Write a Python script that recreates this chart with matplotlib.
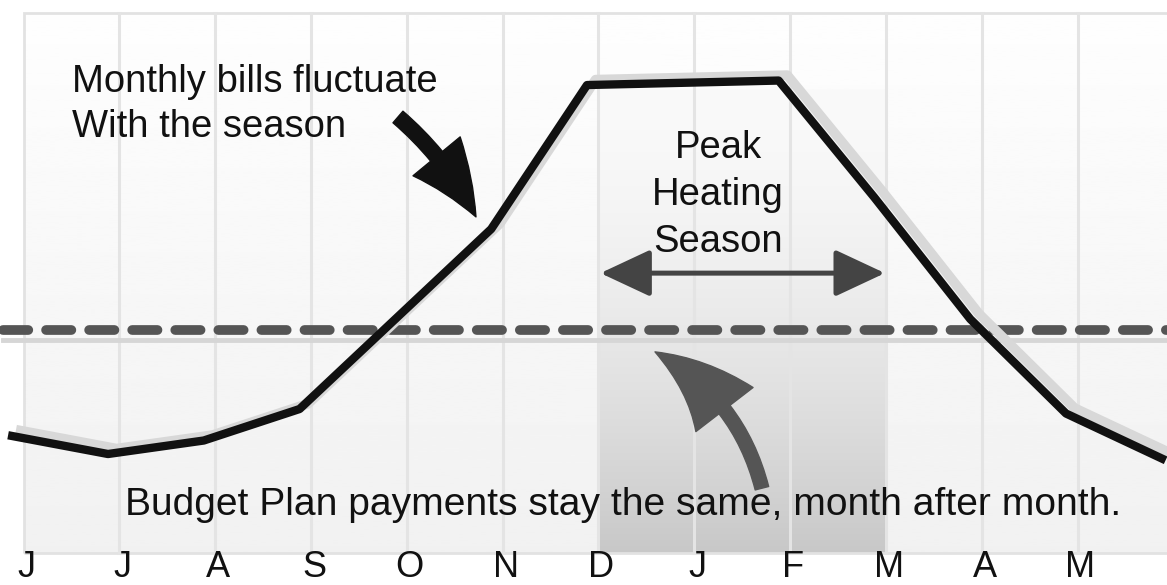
import numpy as np
import matplotlib
matplotlib.use("agg")
import matplotlib.pyplot as plt
from matplotlib.patches import FancyArrowPatch, Rectangle

plt.rcParams["font.family"] = ["Liberation Sans", "DejaVu Sans"]

# ---- data (arbitrary bill units) ----
months = ["J", "J", "A", "S", "O", "N", "D", "J", "F", "M", "A", "M"]
bill = [26, 22, 25, 32, 52, 72, 104, 104.5, 105, 79, 52, 31, 21]  # last = next June
budget = 49.5
peak_start, peak_end = 6, 9  # D .. M

FS = 27.5
fig = plt.figure(figsize=(11.67, 5.85), dpi=100)
ax = fig.add_axes([0, 0, 1, 1])

# plot-area background (soft vertical gradient)
bg = np.linspace(0.945, 0.995, 200)[:, None]
ax.imshow(bg, extent=[0, 12, 0, 120], origin="lower", aspect="auto",
          cmap="gray", vmin=0, vmax=1, zorder=0)
ax.add_patch(Rectangle((0, 0), 12, 120, fill=False, ec="#e2e2e2", lw=2, zorder=2))

# peak season shading, darker towards the bottom
f = np.linspace(1, 0, 200) ** 1.6
shade = (250 - 50 * f) / 255.0
rgba = np.dstack([shade, shade, shade, np.ones_like(shade)]).reshape(200, 1, 4)
ax.imshow(rgba, extent=[peak_start, peak_end, 0, 103], origin="lower",
          aspect="auto", zorder=1)

for i in range(1, 12):
    ax.plot([i, i], [0, 120], color="#e4e4e4", lw=2.2, zorder=2)

# budget plan (dashed) with its faint shadow
ax.plot([-0.22, 11.95], [budget - 2.1] * 2, color="#d6d6d6", lw=3.5, zorder=3)
ax.plot([-0.22, 11.95], [budget] * 2, color="#555555", lw=7,
        dashes=(2.6, 1.83), dash_capstyle="round", zorder=4)

# monthly bills, with light shadow
line_x = np.arange(len(bill)) - 0.12
ax.plot(line_x + 0.09, np.array(bill) + 1.2, color="#d8d8d8", lw=7, zorder=4.5)
ax.plot(line_x, bill, color="#111111", lw=6, zorder=5)

# month labels
for i, m in enumerate(months):
    ax.text(i + 0.03, -3.3, m, ha="center", va="center", fontsize=26, color="#111")

# annotations
ax.text(0.5, 102.4, "Monthly bills fluctuate", fontsize=FS, ha="left", va="baseline", color="#111")
ax.text(0.5, 92.4, "With the season", fontsize=FS, ha="left", va="baseline", color="#111")
for txt, v in zip(["Peak", "Heating", "Season"], [87.8, 77.3, 66.9]):
    ax.text(7.25, v, txt, fontsize=FS, ha="center", va="baseline", color="#111", zorder=6)
ax.text(1.06, 8.4, "Budget Plan payments stay the same, month after month.",
        fontsize=28.1, ha="left", va="baseline", color="#111", zorder=6)

ax.add_patch(FancyArrowPatch((3.907, 96.9), (4.721, 74.7), connectionstyle="arc3,rad=-0.1",
             arrowstyle="simple,tail_width=1.1,head_width=4.4,head_length=5.2",
             mutation_scale=10, color="#111", lw=1, capstyle="round",
             shrinkA=0, shrinkB=0, zorder=6))
ax.add_patch(FancyArrowPatch((6.02, 62.2), (8.99, 62.2),
             arrowstyle="<|-|>,head_length=3.1,head_width=1.45",
             mutation_scale=10, color="#444444", lw=3.6, shrinkA=0, shrinkB=0, zorder=6))
ax.add_patch(FancyArrowPatch((7.706, 14.4), (6.59, 44.7), connectionstyle="arc3,rad=0.22",
             arrowstyle="simple,tail_width=1.0,head_width=5.2,head_length=6.5",
             mutation_scale=10, color="#555555", lw=1, capstyle="round",
             shrinkA=0, shrinkB=0, zorder=6))

ax.set_xlim(-0.247, 11.934)
ax.set_ylim(-7.11, 122.9)
ax.axis("off")
fig.savefig("out.png", dpi=100)
